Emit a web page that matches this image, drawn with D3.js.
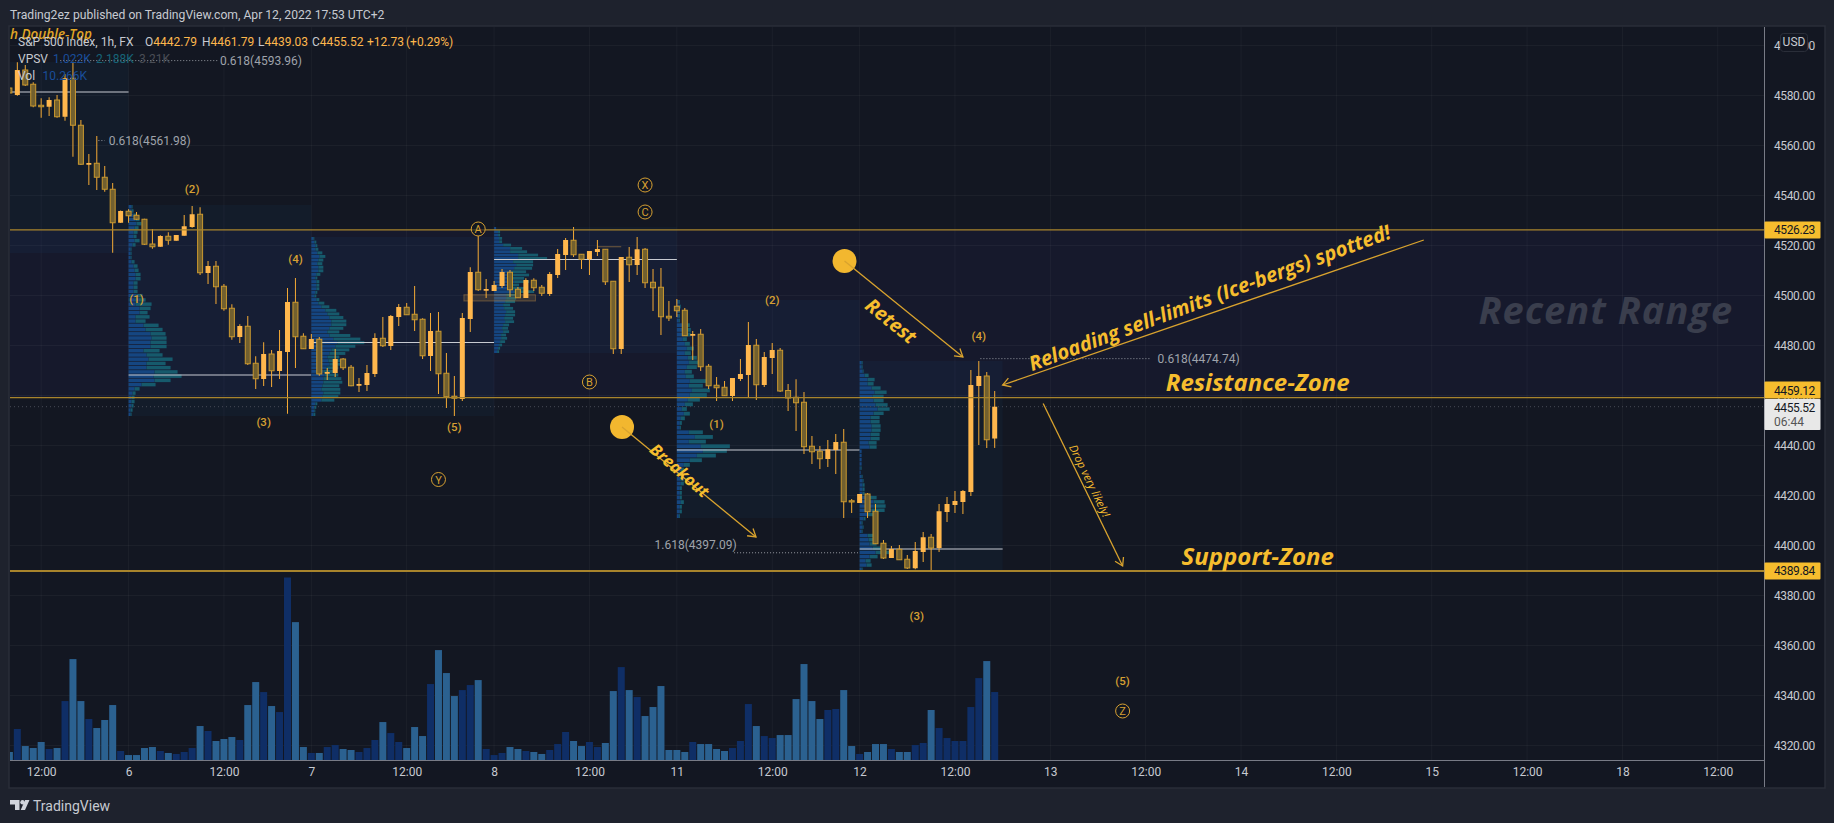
<!DOCTYPE html>
<html><head><meta charset="utf-8">
<script src="https://cdn.jsdelivr.net/npm/d3@7/dist/d3.min.js"></script>
<style>html,body{margin:0;padding:0;background:#1e222d;overflow:hidden}svg{display:block}</style>
</head><body><svg id="c" width="1834" height="823"></svg>
<script>
// ---- bars start at index -1 ----
const firstBar = -1;
const opens = [4583,4580.2,4590.2,4584.5,4576.1,4575.5,4578.2,4571.5,4586.9,4568.1,4552.3,4552.9,4547.3,4542.5,4529.1,4533.7,4532.1,4530.5,4520.6,4519.5,4523.7,4521.9,4523.9,4527.4,4532.5,4509,4511.7,4503.7,4494.9,4483.4,4487.7,4472.9,4466.6,4476.6,4469.8,4477.4,4497.3,4483.7,4478.6,4482.5,4468.7,4469,4474.6,4471.3,4463.9,4464.2,4468.6,4482.9,4479.8,4491.4,4495.3,4492.5,4490.5,4475.8,4485.7,4468.9,4459.7,4458.6,4490.6,4509.3,4501.9,4501.8,4503.8,4509.3,4502.5,4499,4506.1,4503.3,4500.6,4508.2,4516.2,4522.1,4516.5,4514.5,4517.4,4518.5,4505.7,4478.6,4515.3,4512.2,4518.5,4505.3,4503.3,4491.7,4495.7,4494.1,4483.9,4484.5,4471.7,4464.1,4463.3,4459.8,4466.6,4468.2,4480.1,4464.2,4475,4478.1,4462,4459.3,4457.3,4439.7,4437.7,4434.6,4438.2,4441.3,4417.9,4417,4420.6,4413.7,4400.9,4395,4398.5,4394.5,4390.9,4397.4,4403.3,4399,4413.4,4416.2,4417.4,4421.4,4463.8,4467.8,4442.79];
const closes = [4581,4590.2,4584.2,4575.8,4575.5,4578.2,4571.5,4586.9,4568.1,4552.5,4553,4547.3,4542.5,4529.1,4533.8,4531.9,4530.5,4520.5,4519.5,4523.8,4522.1,4524.2,4527.7,4532.5,4509.1,4511.8,4503.5,4494.7,4483.5,4487.8,4472.7,4466.7,4476.6,4469.9,4477.8,4497.4,4483.5,4478.7,4482.6,4468.6,4469.4,4474.6,4471.1,4463.9,4464.6,4469,4483,4479.9,4491.8,4495.4,4492.3,4490.3,4475.9,4485.8,4468.7,4459.5,4458.9,4491,4509.4,4502.3,4502.6,4504.2,4509.4,4502.3,4499.1,4506.2,4503.1,4500.9,4508.6,4516.6,4522.2,4516.3,4514.5,4517.8,4518.6,4505.5,4478.7,4515.4,4512.3,4518.5,4505.1,4503.1,4491.5,4491,4493.9,4483.9,4484.6,4471.5,4463.9,4463.1,4459.9,4467,4468.6,4480.2,4464.3,4475.4,4478.2,4461.8,4459,4457.1,4439.5,4437.5,4434.7,4438.5,4441.4,4417.5,4417.4,4420.6,4413.5,4400.7,4395,4398.6,4394.3,4391,4397.8,4403.3,4399,4413.7,4416.6,4417.8,4421.8,4464.2,4467.8,4442.3,4455.52];
const highs = [4583.8,4593.3,4592.2,4585.3,4578.9,4579.3,4580.2,4588.6,4593.5,4570.2,4556.6,4563.8,4551.8,4545,4534,4534.5,4533.4,4530.7,4526.6,4524.1,4525.3,4524.2,4532.2,4535.8,4535.3,4513.8,4513.8,4504.6,4496.5,4488.5,4491.8,4475.7,4481.3,4478.2,4486.2,4503,4507,4484.9,4484.6,4483.4,4471,4478.6,4475,4472.2,4467,4472.2,4484.9,4491.4,4492.2,4496.6,4497,4503.8,4490.9,4493,4493.4,4477,4467.8,4493,4511.3,4524,4506.6,4505.8,4510.6,4510.2,4503.4,4506.9,4506.9,4504.2,4509.4,4518.6,4523,4527.4,4516.5,4517.8,4522.2,4518.6,4505.7,4515.4,4519.4,4523.4,4519,4510.6,4511,4497.8,4498.6,4495,4485.8,4486.6,4472.6,4467.4,4465.8,4467,4474.6,4489.4,4482.6,4477.4,4481,4479,4464.6,4466.5,4461.4,4443.8,4439.8,4442.2,4444.6,4446.6,4418.6,4420.6,4421,4416.6,4402.2,4399.8,4400.2,4396.2,4401.4,4405.4,4404.6,4416.6,4419.4,4421.8,4422.2,4470.2,4473.8,4469.4,4461.79];
const lows = [4580.2,4579.9,4583.8,4575.3,4571.1,4571.8,4571.1,4569.9,4555.5,4552.2,4544.2,4542.2,4541.5,4517.1,4529,4529.1,4530.2,4520.2,4518.7,4519.5,4520.3,4521.9,4523.9,4527.1,4508.2,4504.6,4496.6,4493.9,4482.3,4481,4472.2,4462.6,4463.8,4463.4,4466.6,4452.7,4471,4478.6,4478.6,4467.9,4466.2,4467.4,4470.2,4463.7,4461.4,4461.8,4467.4,4479.4,4478.2,4487.8,4492.2,4485.8,4474.6,4469.8,4460.6,4455,4451.8,4457.8,4485.4,4501.8,4499,4501.8,4503,4499.4,4499,4499,4501.8,4499.8,4499.8,4507,4510.2,4515.4,4510.6,4508.2,4515.8,4504.2,4476.6,4476.6,4505.4,4508.2,4503,4493.8,4484.2,4489.8,4491.4,4483.8,4474.2,4469.8,4462.6,4457.8,4459.8,4457.8,4465.8,4459,4458.2,4463.4,4468.6,4461.4,4453.8,4445.8,4436.6,4432.6,4430.6,4431.4,4428.6,4411,4413,4417,4411,4400.6,4394.6,4395,4394.2,4390.6,4390.5,4393.4,4389.5,4397.4,4409.4,4413,4412.6,4419.8,4440.2,4439,4439.03];
const volumesK = [1.21,4.68,2.11,1.81,2.72,1.66,1.81,8.9,15.24,8.9,6.19,4.83,6.04,8.3,1.36,.75,.75,1.81,1.96,1.36,1.06,.91,1.21,1.81,5.13,4.38,2.87,3.17,3.47,3.02,8.3,11.77,10.26,8.15,7.24,27.56,20.82,1.96,1.06,1.06,1.96,2.26,1.66,1.51,1.21,1.81,3.02,5.73,4.07,2.72,1.81,4.98,3.62,11.47,16.6,13.13,9.66,10.56,11.32,12.07,1.66,.75,1.06,1.96,1.66,1.36,1.21,.91,1.51,2.41,4.23,2.87,2.11,2.72,1.96,2.57,10.41,14.03,10.56,9.51,6.64,8,11.17,1.51,1.51,1.21,2.72,2.41,2.41,1.66,1.36,1.81,2.87,8.45,5.13,3.62,3.32,3.77,3.77,9.2,14.49,8.9,6.19,7.55,7.7,10.56,2.11,.91,1.21,2.41,2.41,1.66,1.21,1.21,2.26,2.57,7.55,4.83,3.32,2.87,2.87,8,12.37,14.94,10.266];

const priceTicks = [4600,4580,4560,4540,4520,4500,4480,4460,4440,4420,4400,4380,4360,4340,4320];
const timeTickBars = [3,14,26,37,49,60,72,83,95,106,118,130,142,154,166,178,190,202,214];
const timeTickLabels = ["12:00","6","12:00","7","12:00","8","12:00","11","12:00","12","12:00","13","12:00","14","12:00","15","12:00","18","12:00"];

// fixed-range volume profile sessions: start bar, end bar, top price, bottom price, POC price
const vpStart = [-3,14,37,60,83,106];
const vpEnd = [14,37,60,83,106,124];
const vpTop = [4593.4,4536.2,4523.4,4527.4,4498.2,4473.8];
const vpBottom = [4517,4451.8,4451.8,4477,4411,4389.8];
const vpPoc = [4581.4,4468.2,4481.2,4514.4,4438.2,4398.6];
const vpUp = [[],
[3,3,5,7,8,6,5,5,6,4,2,2,2,3,5,6,7,7,5,5,5,8,10,7,11,11,7,7,15,17,22,23,22,22,15,18,20,18,18,26,25,26,13,6,4,3,3,3,2,2],
[2,3,4,4,6,8,7,6,7,7,5,4,5,5,5,4,3,5,7,10,14,16,18,20,20,18,16,18,22,26,24,20,18,16,17,18,15,12,13,12,12,11,10,12,11,10,4,3,3,2],
[2,4,4,5,5,9,16,16,24,24,19,22,20,18,19,17,20,14,17,20,12,12,11,9,10,12,11,10,11,9,8,9,7,7,6,5,4,3],
[2,3,2,2,2,8,8,8,6,8,10,8,11,12,10,8,9,13,12,15,13,11,8,5,7,4,3,3,12,18,12,24,26,20,13,7,4,4,4,4,3,3,3,4,3,3,2],
[2,2,3,5,8,8,12,15,13,14,16,18,14,11,11,12,12,11,11,9,10,2,2,2,2,1,1,2,3,3,3,3,9,14,14,12,8,4,2,3,2,8,9,10,13,16,10,6,7,2]];
const vpDown = [[],
[1,2,3,4,5,4,4,3,5,3,1,1,1,3,4,4,5,5,4,4,4,6,7,16,11,8,14,10,15,17,15,15,16,16,16,16,24,19,24,23,28,16,14,5,3,3,3,2,2,1],
[1,2,2,3,5,6,5,5,5,5,4,2,3,3,3,2,2,3,6,8,11,12,14,15,15,14,12,21,27,27,20,18,16,12,13,14,12,12,14,18,19,17,19,17,16,13,2,2,1,2],
[0,2,2,3,3,8,12,17,20,29,20,17,18,14,16,13,15,11,13,20,11,10,10,7,9,9,10,9,9,6,6,6,5,6,5,3,2,2],
[1,1,1,1,1,5,6,6,4,5,7,6,9,10,10,7,8,17,14,18,17,12,8,5,6,4,2,1,14,18,17,29,24,19,12,6,3,2,3,3,2,2,2,3,2,2,1],
[1,1,1,4,7,6,9,12,11,10,12,12,10,9,9,9,9,9,9,8,7,0,0,0,0,1,0,1,1,2,2,2,8,11,12,13,6,2,1,1,1,6,6,7,12,14,8,5,5,1]];

const levels = [4526.23,4459.12,4389.84];
const waveLabels = ["(1)","(2)","(3)","(4)","(5)","(1)","(2)","(3)","(4)","(5)"];
const waveBars = [15,22,31,35,55,88,95,113.2,121,139.1];
const wavePrices = [4498.5,4542.6,4449.4,4514.6,4447.4,4448.6,4498.2,4371.8,4483.8,4345.8];
const circLabels = ["A","B","C","X","Y","Z"];
const circBars = [58,72,79,79,53,139.1];
const circPrices = [4526.6,4465.4,4533.4,4544.2,4426.4,4333.8];
const dotBars = [104.1,76.1];
const dotPrices = [4513.8,4447.4];
const arrowFrom = [[104.1,4513.8],[76.1,4447.4],[177,4522.2],[129.1,4456.8]];
const arrowTo = [[119,4475.4],[92.96,4403.4],[124,4464.2],[139.1,4391.8]];
const fibLabels = ["0.618(4593.96)","0.618(4561.98)","0.618(4474.74)","1.618(4397.09)"];
const fibPrices = [4593.96,4561.98,4474.74,4397.09];
const fibLineFrom = [5.4,10.2,121.2,90.2];
const fibLineTo = [25.2,11,142.5,105.8];
const fibTextBars = [25.5,11.5,143.5,80.2];

// ---- layout ----
const W=1834,H=823,L=10,T=27,R=1764.5,B=760,FR=1824,FB=787;
const svg=d3.select("#c");
const x=d3.scaleLinear().domain([0,123]).range([17.33,994.7]);
const y=d3.scaleLinear().domain([4320,4580]).range([745.5,95.5]);
const v=d3.scaleLinear().domain([0,27.56]).range([B,B-182.5]);
const UI="Roboto,'Noto Sans',sans-serif", ANN="'Open Sans','Noto Sans',sans-serif";
const ORANGE="#ffb74d", LINE="#a8842c", YEL="#f6bd2e", DIM="#d6a032", TXT="#c7cad1";

svg.append("rect").attr("width",W).attr("height",H).attr("fill","#1e222d");
svg.append("rect").attr("x",L-1).attr("y",T-1).attr("width",FR-L+2).attr("height",FB-T+2).attr("fill","#131722").attr("stroke","#2a2e39").attr("stroke-width",1.5);
const defs=svg.append("defs");
defs.append("clipPath").attr("id","plot").append("rect").attr("x",L).attr("y",T).attr("width",R-L).attr("height",B-T);
const plot=svg.append("g").attr("clip-path","url(#plot)");

// recent range tint
plot.append("rect").attr("x",L).attr("width",R-L).attr("y",y(levels[0])).attr("height",y(levels[1])-y(levels[0])).attr("fill","#16192c");

// grid
plot.append("g").selectAll("line").data(priceTicks).join("line").attr("x1",L).attr("x2",R).attr("y1",d=>y(d)).attr("y2",d=>y(d)).attr("stroke","#fff").attr("stroke-opacity",.04);
plot.append("g").selectAll("line").data(timeTickBars).join("line").attr("y1",T).attr("y2",B).attr("x1",d=>x(d)).attr("x2",d=>x(d)).attr("stroke","#fff").attr("stroke-opacity",.04);

// volume profiles
const profX=d3.scaleLinear().domain([0,1]).range([0,1]);
vpStart.forEach((s,k)=>{
  plot.append("rect").attr("x",x(s)).attr("width",x(vpEnd[k])-x(s)).attr("y",y(vpTop[k])).attr("height",y(vpBottom[k])-y(vpTop[k])).attr("fill","#2196f3").attr("fill-opacity",.04);
  const rows=d3.scaleBand().domain(d3.range(vpUp[k].length)).range([y(vpTop[k]),y(vpBottom[k])]).paddingInner(.18);
  const g=plot.append("g");
  g.selectAll(".u").data(vpUp[k]).join("rect").attr("x",x(s)).attr("y",(d,i)=>rows(i)).attr("height",rows.bandwidth()).attr("width",d=>profX(d)).attr("fill","#154681");
  g.selectAll(".d").data(vpDown[k]).join("rect").attr("x",(d,i)=>x(s)+profX(vpUp[k][i])).attr("y",(d,i)=>rows(i)).attr("height",rows.bandwidth()).attr("width",d=>profX(d)).attr("fill","#165a6c");
  plot.append("line").attr("x1",x(s)).attr("x2",x(vpEnd[k])).attr("y1",y(vpPoc[k])).attr("y2",y(vpPoc[k])).attr("stroke","#c7cad1").attr("stroke-width",1.2);
});

// auxiliary fib rectangle and short line
plot.append("rect").attr("x",x(56.2)).attr("width",x(65.2)-x(56.2)).attr("y",y(4500.3)).attr("height",y(4497.8)-y(4500.3)).attr("fill",ORANGE).attr("fill-opacity",.14).attr("stroke",ORANGE).attr("stroke-opacity",.3);
plot.append("line").attr("x1",x(73)).attr("x2",x(76)).attr("y1",y(4519.5)).attr("y2",y(4519.5)).attr("stroke",ORANGE).attr("stroke-opacity",.4);

// volume
const idx=opens.map((_,i)=>i+firstBar);
plot.append("g").selectAll("rect").data(idx).join("rect").attr("x",d=>x(d)-3.5).attr("width",7)
 .attr("y",(d,i)=>v(volumesK[i])).attr("height",(d,i)=>B-v(volumesK[i]))
 .attr("fill",(d,i)=>closes[i]>=opens[i]?"#0f2e66":"#2b6190");

// last price dotted
plot.append("line").attr("x1",L).attr("x2",R).attr("y1",y(closes[closes.length-1])).attr("y2",y(closes[closes.length-1])).attr("stroke","#474a55").attr("stroke-dasharray","1 3");

// candles
const cg=plot.append("g");
cg.selectAll("line").data(idx).join("line").attr("x1",d=>x(d)).attr("x2",d=>x(d)).attr("y1",(d,i)=>y(highs[i])).attr("y2",(d,i)=>y(lows[i])).attr("stroke","#f5ab35");
cg.selectAll("rect").data(idx).join("rect").attr("x",d=>x(d)-2.5).attr("width",5)
 .attr("y",(d,i)=>y(Math.max(opens[i],closes[i])))
 .attr("height",(d,i)=>Math.max(1,Math.abs(y(opens[i])-y(closes[i]))))
 .attr("fill",(d,i)=>closes[i]>=opens[i]?ORANGE:"#72602f")
 .attr("stroke",(d,i)=>closes[i]>=opens[i]?"none":"#c9982f").attr("stroke-width",1);

// horizontal levels
plot.append("g").selectAll("line").data(levels).join("line").attr("x1",L).attr("x2",R).attr("y1",d=>y(d)).attr("y2",d=>y(d)).attr("stroke",LINE).attr("stroke-width",(d,i)=>i==2?2:1.2);

// fib connectors and labels
fibPrices.forEach((p,i)=>plot.append("line").attr("x1",x(fibLineFrom[i])).attr("x2",x(fibLineTo[i])).attr("y1",y(p)).attr("y2",y(p)).attr("stroke","#9598a1").attr("stroke-dasharray","1 2"));
plot.append("g").selectAll("text").data(fibLabels).join("text").attr("x",(d,i)=>x(fibTextBars[i])).attr("y",(d,i)=>y(fibPrices[i])+(i==3?-3.5:4))
 .attr("font-family",UI).attr("font-size",12).attr("fill","#9fa3ab").text(d=>d);

// wave labels
plot.append("g").selectAll("text").data(waveLabels).join("text").attr("x",(d,i)=>x(waveBars[i])).attr("y",(d,i)=>y(wavePrices[i])+4).attr("text-anchor","middle")
 .attr("font-family",UI).attr("font-size",11.5).attr("font-weight",500).attr("fill",DIM).text(d=>d);
const cgs=plot.append("g").selectAll("g").data(circLabels).join("g").attr("transform",(d,i)=>`translate(${x(circBars[i])},${y(circPrices[i])})`);
cgs.append("circle").attr("r",7).attr("fill","#131722").attr("fill-opacity",.6).attr("stroke",DIM);
cgs.append("text").attr("y",4).attr("text-anchor","middle").attr("font-family",UI).attr("font-size",11).attr("fill",DIM).text(d=>d);

// big dots and arrows
plot.append("g").selectAll("circle").data(dotBars).join("circle").attr("cx",d=>x(d)).attr("cy",(d,i)=>y(dotPrices[i])).attr("r",12).attr("fill","#f2b72f");
arrowFrom.forEach((f,i)=>{
  const x1=x(f[0]),y1=y(f[1]),x2=x(arrowTo[i][0]),y2=y(arrowTo[i][1]);
  plot.append("line").attr("x1",x1).attr("y1",y1).attr("x2",x2).attr("y2",y2).attr("stroke","#d9a32e").attr("stroke-width",1.3);
  const a=Math.atan2(y2-y1,x2-x1);
  const h=d3.line()([[x2-9*Math.cos(a-.55),y2-9*Math.sin(a-.55)],[x2,y2],[x2-9*Math.cos(a+.55),y2-9*Math.sin(a+.55)]]);
  plot.append("path").attr("d",h).attr("fill","none").attr("stroke","#d9a32e").attr("stroke-width",1.3);
});

function ann(txt,bar,price,rot,size,fill,w,extra){
  const t=plot.append("text").attr("transform",`translate(${x(bar)},${y(price)}) rotate(${rot})`)
   .attr("text-anchor","middle").attr("dominant-baseline","central").attr("font-family",ANN).attr("font-style","italic").attr("font-weight",w)
   .attr("font-size",size).attr("fill",fill).text(txt);
  if(extra) t.attr("letter-spacing",extra);
  return t;
}
ann("Retest",110,4490,39,19.5,YEL,700);
ann("Breakout",83.4,4430.2,41,16.5,YEL,700);
ann("Reloading sell-limits (Ice-bergs) spotted!",150,4499.4,-20.3,20.3,YEL,700);
ann("Drop very likely!",135,4426,64,11.3,YEL,500);
ann("Resistance-Zone",156.1,4465.6,0,24,YEL,700);
ann("Support-Zone",156.1,4396,0,24,YEL,700);
ann("Recent Range",199.9,4494.6,0,38,"#3a3e4d",700,"1");

// top-left texts
const legend=svg.append("g").attr("font-family",UI).attr("font-size",12);
legend.append("text").attr("x",10).attr("y",39).attr("font-style","italic").attr("font-weight",600).attr("font-family",ANN).attr("font-size",13.5).attr("fill","#e0a526").text("h Double-Top");
legend.append("text").attr("x",18).attr("y",46).attr("fill",TXT).text("S&P 500 Index, 1h, FX");
[["O",145,"4442.79"],["H",202,"4461.79"],["L",258,"4439.03"],["C",312,"4455.52"]].forEach(d=>{
  const t=legend.append("text").attr("x",d[1]).attr("y",46);
  t.append("tspan").attr("fill",TXT).text(d[0]);
  t.append("tspan").attr("fill",ORANGE).text(d[2]);
});
legend.append("text").attr("x",367).attr("y",46).attr("fill",ORANGE).text("+12.73");
legend.append("text").attr("x",406).attr("y",46).attr("fill",ORANGE).text("(+0.29%)");
legend.append("text").attr("x",18).attr("y",63).attr("fill",TXT).text("VPSV");
legend.append("text").attr("x",53).attr("y",63).attr("fill","#1a4e9a").text("1.022K");
legend.append("text").attr("x",96).attr("y",63).attr("fill","#176478").text("2.188K");
legend.append("text").attr("x",139).attr("y",63).attr("fill","#4a4d55").text("3.21K");
legend.append("text").attr("x",18).attr("y",80).attr("fill",TXT).text("Vol");
legend.append("text").attr("x",42.5).attr("y",80).attr("fill","#1a4e9a").text("10.266K");

// axes
svg.append("line").attr("x1",R).attr("x2",R).attr("y1",T).attr("y2",FB).attr("stroke","#787b86");
svg.append("line").attr("x1",L).attr("x2",R).attr("y1",B+.5).attr("y2",B+.5).attr("stroke","#787b86");
const pa=d3.axisRight(y).tickValues(priceTicks).tickSize(0).tickPadding(0).tickFormat(d3.format(".2f"));
const pag=svg.append("g").attr("transform",`translate(1774,0)`).call(pa);
pag.select(".domain").remove();
pag.selectAll("text").attr("font-family",UI).attr("font-size",12).attr("letter-spacing",-.4).attr("fill",TXT);
const ta=d3.axisBottom(x).tickValues(timeTickBars).tickSize(0).tickPadding(0).tickFormat((d,i)=>timeTickLabels[i]);
const tag=svg.append("g").attr("transform",`translate(0,${B+7})`).call(ta);
tag.select(".domain").remove();
tag.selectAll("text").attr("font-family",UI).attr("font-size",12).attr("fill",TXT);

// USD button
svg.append("rect").attr("x",1780.5).attr("y",33.5).attr("width",27).attr("height",18).attr("rx",3).attr("fill","#131722").attr("stroke","#2a2e39");
svg.append("text").attr("x",1794).attr("y",46).attr("text-anchor","middle").attr("font-family",UI).attr("font-size",12).attr("fill",TXT).text("USD");

// price tags
const tagOffset=[0,-7.7,0];
levels.forEach((p,i)=>{
  svg.append("rect").attr("x",R).attr("width",56).attr("y",y(p)-8.5+tagOffset[i]).attr("height",17).attr("rx",1).attr("fill",YEL);
  svg.append("text").attr("x",1774).attr("y",y(p)+4.5+tagOffset[i]).attr("font-family",UI).attr("font-size",12).attr("letter-spacing",-.4).attr("fill","#131722").text(d3.format(".2f")(p));
});
svg.append("rect").attr("x",R).attr("width",56).attr("y",399).attr("height",31).attr("rx",1).attr("fill","#e8e8e8");
svg.append("text").attr("x",1774).attr("y",412).attr("font-family",UI).attr("font-size",12).attr("letter-spacing",-.4).attr("fill","#131722").text("4455.52");
svg.append("text").attr("x",1774).attr("y",426).attr("font-family",UI).attr("font-size",12).attr("fill","#555").text("06:44");

// header + footer
svg.append("text").attr("x",10).attr("y",19).attr("font-family",UI).attr("font-size",12.15).attr("fill",TXT).text("Trading2ez published on TradingView.com, Apr 12, 2022 17:53 UTC+2");
svg.append("path").attr("d","M10 800h9.5v10h-4.5v-5.5h-5zM29.5 800l-4.5 10h-4.3l4.4-10z").attr("fill","#d1d4dc");
svg.append("circle").attr("cx",22.5).attr("cy",802.3).attr("r",2.2).attr("fill","#d1d4dc");
svg.append("text").attr("x",33).attr("y",810.5).attr("font-family",UI).attr("font-size",14).attr("fill",TXT).text("TradingView");
</script></body></html>
